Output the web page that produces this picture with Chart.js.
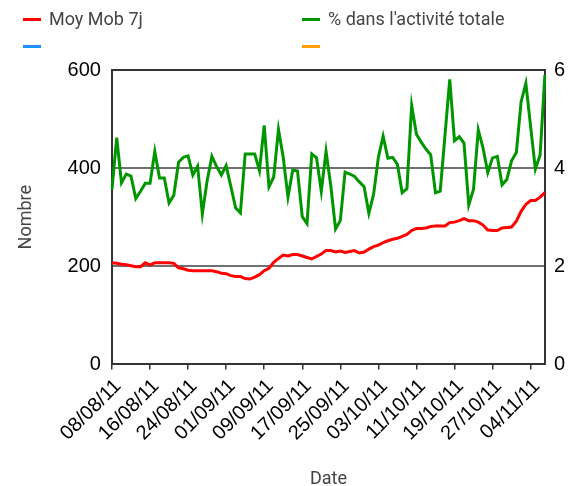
<!DOCTYPE html>
<html>
<head>
<meta charset="utf-8">
<script src="https://cdn.jsdelivr.net/npm/chart.js@4"></script>
<style>
    body { margin: 0; background: #fff; }
    #wrap { position: relative; width: 575px; height: 486px; }
    #legend { position: absolute; left: 0; top: 0; width: 575px; font-family: Roboto, sans-serif; font-size: 18px; color: #444; }
    .item { position: absolute; height: 22px; line-height: 22px; white-space: nowrap; }
    .item span.swatch { display: inline-block; width: 18px; height: 3px; vertical-align: middle; margin-right: 8px; position: relative; top: -1px; }
</style>
</head>
<body>
<div id="wrap">
    <canvas id="myChart" width="575" height="486"></canvas>
    <div id="legend"></div>
</div>
<script>
// daily labels, 08/08/11 -> 07/11/11
const startDate = new Date(2011, 7, 8);
const dayCount = 92;
const dates = [];
for (let i = 0; i < dayCount; i++) {
    let d = new Date(startDate.getFullYear(), startDate.getMonth(), startDate.getDate() + i);
    let dd = String(d.getDate()).padStart(2, '0');
    let mm = String(d.getMonth() + 1).padStart(2, '0');
    dates.push(dd + '/' + mm + '/11');
}

// Moy Mob 7j (left axis)
const moyMob = [207, 206, 204, 203, 201, 199, 199, 207, 203, 207,
    207, 207, 207, 206, 197, 195, 192, 191, 191, 191,
    191, 191, 189, 186, 185, 181, 179, 179, 175, 174,
    178, 183, 191, 196, 208, 216, 223, 221, 224, 224,
    221, 218, 215, 220, 225, 232, 232, 229, 231, 228,
    230, 232, 227, 229, 235, 240, 243, 248, 252, 255,
    257, 261, 265, 273, 277, 277, 278, 281, 282, 282,
    282, 289, 290, 293, 297, 293, 293, 290, 284, 274,
    273, 273, 278, 279, 280, 292, 312, 326, 334, 334,
    341, 350];

// % dans l'activite totale (right axis)
const partActivite = [3.57, 4.62, 3.70, 3.88, 3.84, 3.38, 3.53, 3.69, 3.69, 4.34,
    3.80, 3.80, 3.29, 3.45, 4.12, 4.22, 4.25, 3.86, 4.04, 3.07,
    3.74, 4.24, 4.03, 3.86, 4.05, 3.62, 3.19, 3.09, 4.29, 4.29,
    4.29, 3.95, 4.87, 3.62, 3.82, 4.79, 4.22, 3.41, 3.96, 3.94,
    3.01, 2.87, 4.29, 4.21, 3.53, 4.34, 3.64, 2.76, 2.93, 3.92,
    3.88, 3.83, 3.72, 3.62, 3.08, 3.47, 4.22, 4.65, 4.20, 4.22,
    4.08, 3.50, 3.58, 5.28, 4.69, 4.53, 4.39, 4.27, 3.50, 3.53,
    4.67, 5.81, 4.56, 4.64, 4.51, 3.25, 3.57, 4.78, 4.41, 3.91,
    4.21, 4.24, 3.66, 3.77, 4.15, 4.32, 5.35, 5.73, 4.85, 3.98,
    4.27, 5.90];

const leftTicks = [0, 200, 400, 600];
const rightTicks = [0, 2, 4, 6];

const seriesNames = ['Moy Mob 7j', "% dans l'activité totale", '', ''];
const seriesColors = ['#ff0000', '#009600', '#1e90ff', '#ff9d00'];

const tickFont = { family: "'Liberation Sans', Arial, sans-serif", size: 20 };
const titleFont = { family: 'Roboto, sans-serif', size: 18 };
const frameColor = '#333333';

function buildLegend(chart) {
    let legend = document.getElementById('legend');
    legend.innerHTML = '';
    chart.data.datasets.forEach(function (ds, i) {
        let item = document.createElement('div');
        item.className = 'item';
        item.style.left = (i % 2 === 0 ? 23 : 302) + 'px';
        item.style.top = (i < 2 ? 8 : 35) + 'px';
        item.innerHTML = `<span class="swatch" style="background:${ds.borderColor}"></span>${ds.label}`;
        legend.appendChild(item);
    });
}

const ctx = document.getElementById('myChart');
const myChart = new Chart(ctx, {
    type: 'line',
    data: {
        labels: dates,
        datasets: [{
            label: seriesNames[0],
            data: moyMob,
            borderColor: seriesColors[0],
            backgroundColor: seriesColors[0],
            yAxisID: 'y'
        }, {
            label: seriesNames[1],
            data: partActivite,
            borderColor: seriesColors[1],
            backgroundColor: seriesColors[1],
            yAxisID: 'y1'
        }, {
            label: seriesNames[2],
            data: [],
            borderColor: seriesColors[2],
            backgroundColor: seriesColors[2],
            yAxisID: 'y'
        }, {
            label: seriesNames[3],
            data: [],
            borderColor: seriesColors[3],
            backgroundColor: seriesColors[3],
            yAxisID: 'y'
        }]
    },
    options: {
        responsive: false,
        animation: false,
        elements: {
            point: { radius: 0 },
            line: { borderWidth: 3, tension: 0 }
        },
        layout: { padding: { top: 70, left: 16, right: 1, bottom: 0 } },
        plugins: {
            legend: { display: false },
            tooltip: { enabled: false }
        },
        scales: {
            x: {
                offset: false,
                grid: { drawOnChartArea: false, color: frameColor, lineWidth: 1.5, tickLength: 5 },
                border: { display: true, color: frameColor, width: 2 },
                ticks: {
                    autoSkip: false,
                    maxRotation: 45,
                    minRotation: 45,
                    color: '#000',
                    font: tickFont,
                    padding: 5,
                    labelOffset: 6,
                    callback: function (value, index) {
                        return index % 8 === 0 ? dates[index] : null;
                    }
                },
                title: { display: true, text: 'Date', color: '#444', font: titleFont, padding: { top: 18, bottom: -4 } }
            },
            y: {
                position: 'left',
                min: 0,
                max: 600,
                afterBuildTicks: function (axis) {
                    axis.ticks = leftTicks.map(v => ({ value: v }));
                },
                grid: {
                    drawTicks: false,
                    lineWidth: 2,
                    color: function (c) {
                        return (c.tick.value === 0 || c.tick.value === 600) ? frameColor : '#707070';
                    }
                },
                border: { display: true, color: frameColor, width: 2 },
                ticks: { color: '#000', font: tickFont, padding: 11 },
                title: { display: true, text: 'Nombre', color: '#444', font: titleFont, padding: { top: 0, bottom: 19 } }
            },
            y1: {
                position: 'right',
                min: 0,
                max: 6,
                afterBuildTicks: function (axis) {
                    axis.ticks = rightTicks.map(v => ({ value: v }));
                },
                grid: { drawOnChartArea: false, drawTicks: false },
                border: { display: true, color: frameColor, width: 2 },
                ticks: { color: '#000', font: tickFont, padding: 9 }
            }
        }
    }
});

buildLegend(myChart);
</script>
</body>
</html>
